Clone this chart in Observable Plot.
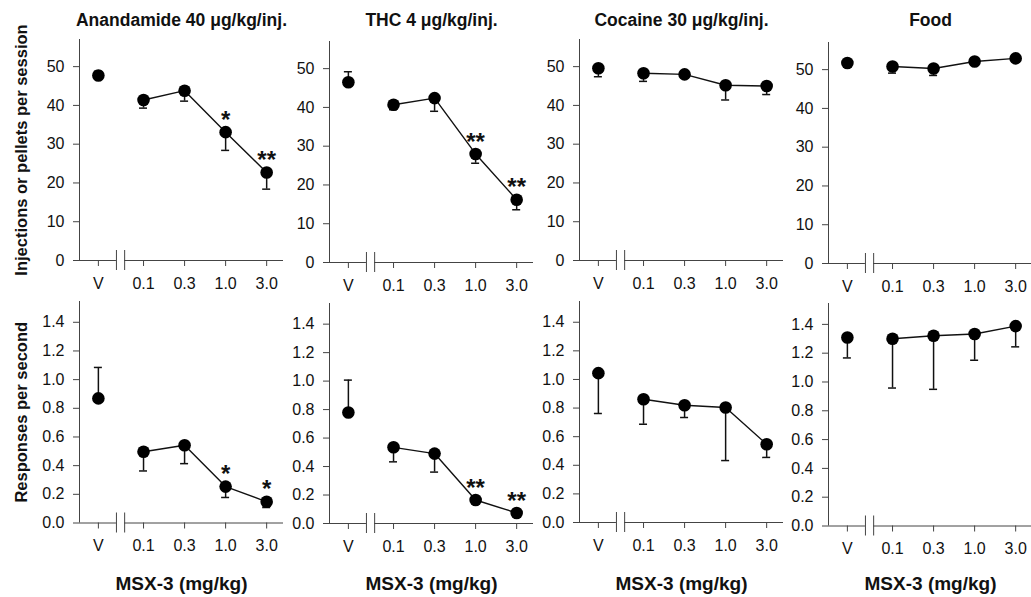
<!DOCTYPE html>
<html><head><meta charset="utf-8">
<script src="https://cdn.jsdelivr.net/npm/d3@7"></script>
<script src="https://cdn.jsdelivr.net/npm/@observablehq/plot@0.6"></script>
<style>
body{margin:0;background:#fff;overflow:hidden;}
#chart{position:relative;width:1031px;height:597px;font-family:"Liberation Sans",Arial,sans-serif;}
#chart svg{position:absolute;overflow:visible;}
</style></head><body><div id="chart"></div>
<script>
// ---------- data ----------
const doses = ["V", "0.1", "0.3", "1.0", "3.0"];
const panelTitles = ["Anandamide 40 μg/kg/inj.", "THC 4 μg/kg/inj.", "Cocaine 30 μg/kg/inj.", "Food"];
const topYLabel = "Injections or pellets per session";
const bottomYLabel = "Responses per second";
const xLabel = "MSX-3 (mg/kg)";
const topTicks = [0, 10, 20, 30, 40, 50];
const bottomTicks = [0, 0.2, 0.4, 0.6, 0.8, 1.0, 1.2, 1.4];

// Top row: injections or pellets per session (mean) and error-bar end values
const anandamideTop = [47.7, 41.4, 43.8, 33.1, 22.7];
const anandamideTopErr = [48.8, 39.3, 41.1, 28.4, 18.4];
const thcTop = [46.5, 40.7, 42.4, 28.0, 16.2];
const thcTopErr = [49.2, 39.4, 39.0, 25.6, 13.6];
const cocaineTop = [49.6, 48.3, 48.0, 45.2, 45.0];
const cocaineTopErr = [47.4, 46.2, 47.2, 41.4, 42.8];
const foodTop = [51.7, 50.8, 50.3, 52.1, 52.9];
const foodTopErr = [51.7, 49.1, 48.5, 52.1, 52.9];

// Bottom row: responses per second (mean) and error-bar end values
const anandamideBottom = [0.869, 0.497, 0.542, 0.254, 0.148];
const anandamideBottomErr = [1.085, 0.363, 0.414, 0.178, 0.108];
const thcBottom = [0.779, 0.535, 0.491, 0.165, 0.074];
const thcBottomErr = [1.007, 0.433, 0.361, 0.165, 0.074];
const cocaineBottom = [1.044, 0.862, 0.82, 0.804, 0.547];
const cocaineBottomErr = [0.762, 0.687, 0.734, 0.433, 0.455];
const foodBottom = [1.309, 1.30, 1.321, 1.333, 1.388];
const foodBottomErr = [1.167, 0.958, 0.949, 1.151, 1.244];

// Significance marks
const anandamideTopSig = ["", "", "", "*", "**"];
const thcTopSig = ["", "", "", "**", "**"];
const cocaineTopSig = ["", "", "", "", ""];
const foodTopSig = ["", "", "", "", ""];
const anandamideBottomSig = ["", "", "", "*", "*"];
const thcBottomSig = ["", "", "", "**", "**"];
const cocaineBottomSig = ["", "", "", "", ""];
const foodBottomSig = ["", "", "", "", ""];

// ---------- layout ----------
const topRow = [
  [anandamideTop, anandamideTopErr, anandamideTopSig],
  [thcTop, thcTopErr, thcTopSig],
  [cocaineTop, cocaineTopErr, cocaineTopSig],
  [foodTop, foodTopErr, foodTopSig]
];
const bottomRow = [
  [anandamideBottom, anandamideBottomErr, anandamideBottomSig],
  [thcBottom, thcBottomErr, thcBottomSig],
  [cocaineBottom, cocaineBottomErr, cocaineBottomSig],
  [foodBottom, foodBottomErr, foodBottomSig]
];

const axisXs = [79, 329, 579, 828];
const topAxisTop = [39, 41, 39, 42], topBase = [260, 262, 260, 263];
const botAxisTop = [301, 303, 301, 303], botBase = [522.5, 523, 522, 525.5];
const frameW = 204;
const xDomain = [-0.46, 4.51];
const breakAt = [0.44, 0.64];
const xPos = i => (i === 0 ? 0 : i + 0.1);
const tickPos = doses.map((d, i) => xPos(i));
const tickLabel = new Map(doses.map((d, i) => [xPos(i), d]));

const axisColor = "#444";
const textColor = "#111";
const font = "'Liberation Sans', Arial, sans-serif";

function panel({values, errs, sigs, yMax, yTicks, yFmt, axisX, axisTop, base, svgTop, svgH, title, yLabel, i}) {
  const data = doses.map((d, k) => ({dose: d, x: xPos(k), y: values[k], e: errs[k], s: sigs[k]}));
  const svgLeft = i === 0 ? 0 : axisX - 60;
  const marginLeft = axisX - svgLeft;
  const marginRight = 4;
  const width = marginLeft + frameW + marginRight;
  const marginTop = axisTop - svgTop;
  const marginBottom = svgTop + svgH - base;
  const marks = [
    Plot.ruleY([[xDomain[0], breakAt[0]], [breakAt[1], xDomain[1]]], {x1: d => d[0], x2: d => d[1], y: 0, stroke: axisColor, strokeWidth: 1}),
    Plot.ruleX(breakAt, {x: d => d, y1: 0, y2: 0, insetTop: -10, insetBottom: -10, stroke: axisColor, strokeWidth: 1}),
    Plot.ruleX([xDomain[0]], {y1: 0, y2: yMax, stroke: axisColor, strokeWidth: 1}),
    Plot.axisY({ticks: yTicks, tickFormat: yFmt, tickSize: 6, tickPadding: 9, fontSize: 16, stroke: axisColor, fill: textColor, label: null}),
    Plot.axisX({ticks: tickPos, tickFormat: d => tickLabel.get(d), tickSize: 6, tickPadding: 11, fontSize: 16, stroke: axisColor, fill: textColor, label: null}),
    Plot.ruleX(data, {x: "x", y1: "y", y2: "e", stroke: "#111", strokeWidth: 1.5}),
    Plot.ruleY(data.filter(d => d.e !== d.y), {y: "e", x1: "x", x2: "x", insetLeft: -4, insetRight: -4, stroke: "#111", strokeWidth: 1.5}),
    Plot.line(data.filter(d => d.dose !== "V"), {x: "x", y: "y", stroke: "#111", strokeWidth: 1.4}),
    Plot.dot(data, {x: "x", y: "y", r: 6.3, fill: "#000", stroke: "none"}),
    Plot.text(data.filter(d => d.s), {x: "x", y: "y", text: "s", dy: -12, fontSize: 24, fontWeight: "bold", fill: "#111"})
  ];
  if (title) marks.push(Plot.text([title], {frameAnchor: "top", lineAnchor: "bottom", textAnchor: "middle", dy: 25 - axisTop, fontSize: 17.5, fontWeight: "bold", fill: "#111"}));
  if (yLabel) marks.push(Plot.text([yLabel], {frameAnchor: "left", textAnchor: "middle", lineAnchor: "middle", rotate: -90, dx: -58, fontSize: 16.5, fontWeight: "bold", fill: "#111"}));
  if (!title) marks.push(Plot.text([xLabel], {frameAnchor: "bottom", lineAnchor: "bottom", textAnchor: "middle", dy: 589 - base, fontSize: 19, fontWeight: "bold", fill: "#111"}));
  const svg = Plot.plot({
    width, height: svgH, marginLeft, marginRight, marginTop, marginBottom,
    x: {domain: xDomain},
    y: {domain: [0, yMax]},
    style: {fontFamily: font, fontSize: "16px", background: "transparent", overflow: "visible", color: textColor},
    marks
  });
  svg.style.left = svgLeft + "px";
  svg.style.top = svgTop + "px";
  return svg;
}

const chart = document.getElementById("chart");
topRow.forEach(([values, errs, sigs], i) => {
  chart.appendChild(panel({values, errs, sigs, yMax: 57, yTicks: topTicks, yFmt: d3.format("d"),
    axisX: axisXs[i], axisTop: topAxisTop[i], base: topBase[i], svgTop: 0, svgH: 300,
    title: panelTitles[i], yLabel: i === 0 ? topYLabel : null, i}));
});
bottomRow.forEach(([values, errs, sigs], i) => {
  chart.appendChild(panel({values, errs, sigs, yMax: 1.545, yTicks: bottomTicks, yFmt: d3.format(".1f"),
    axisX: axisXs[i], axisTop: botAxisTop[i], base: botBase[i], svgTop: 290, svgH: 307,
    title: null, yLabel: i === 0 ? bottomYLabel : null, i}));
});
</script></body></html>
